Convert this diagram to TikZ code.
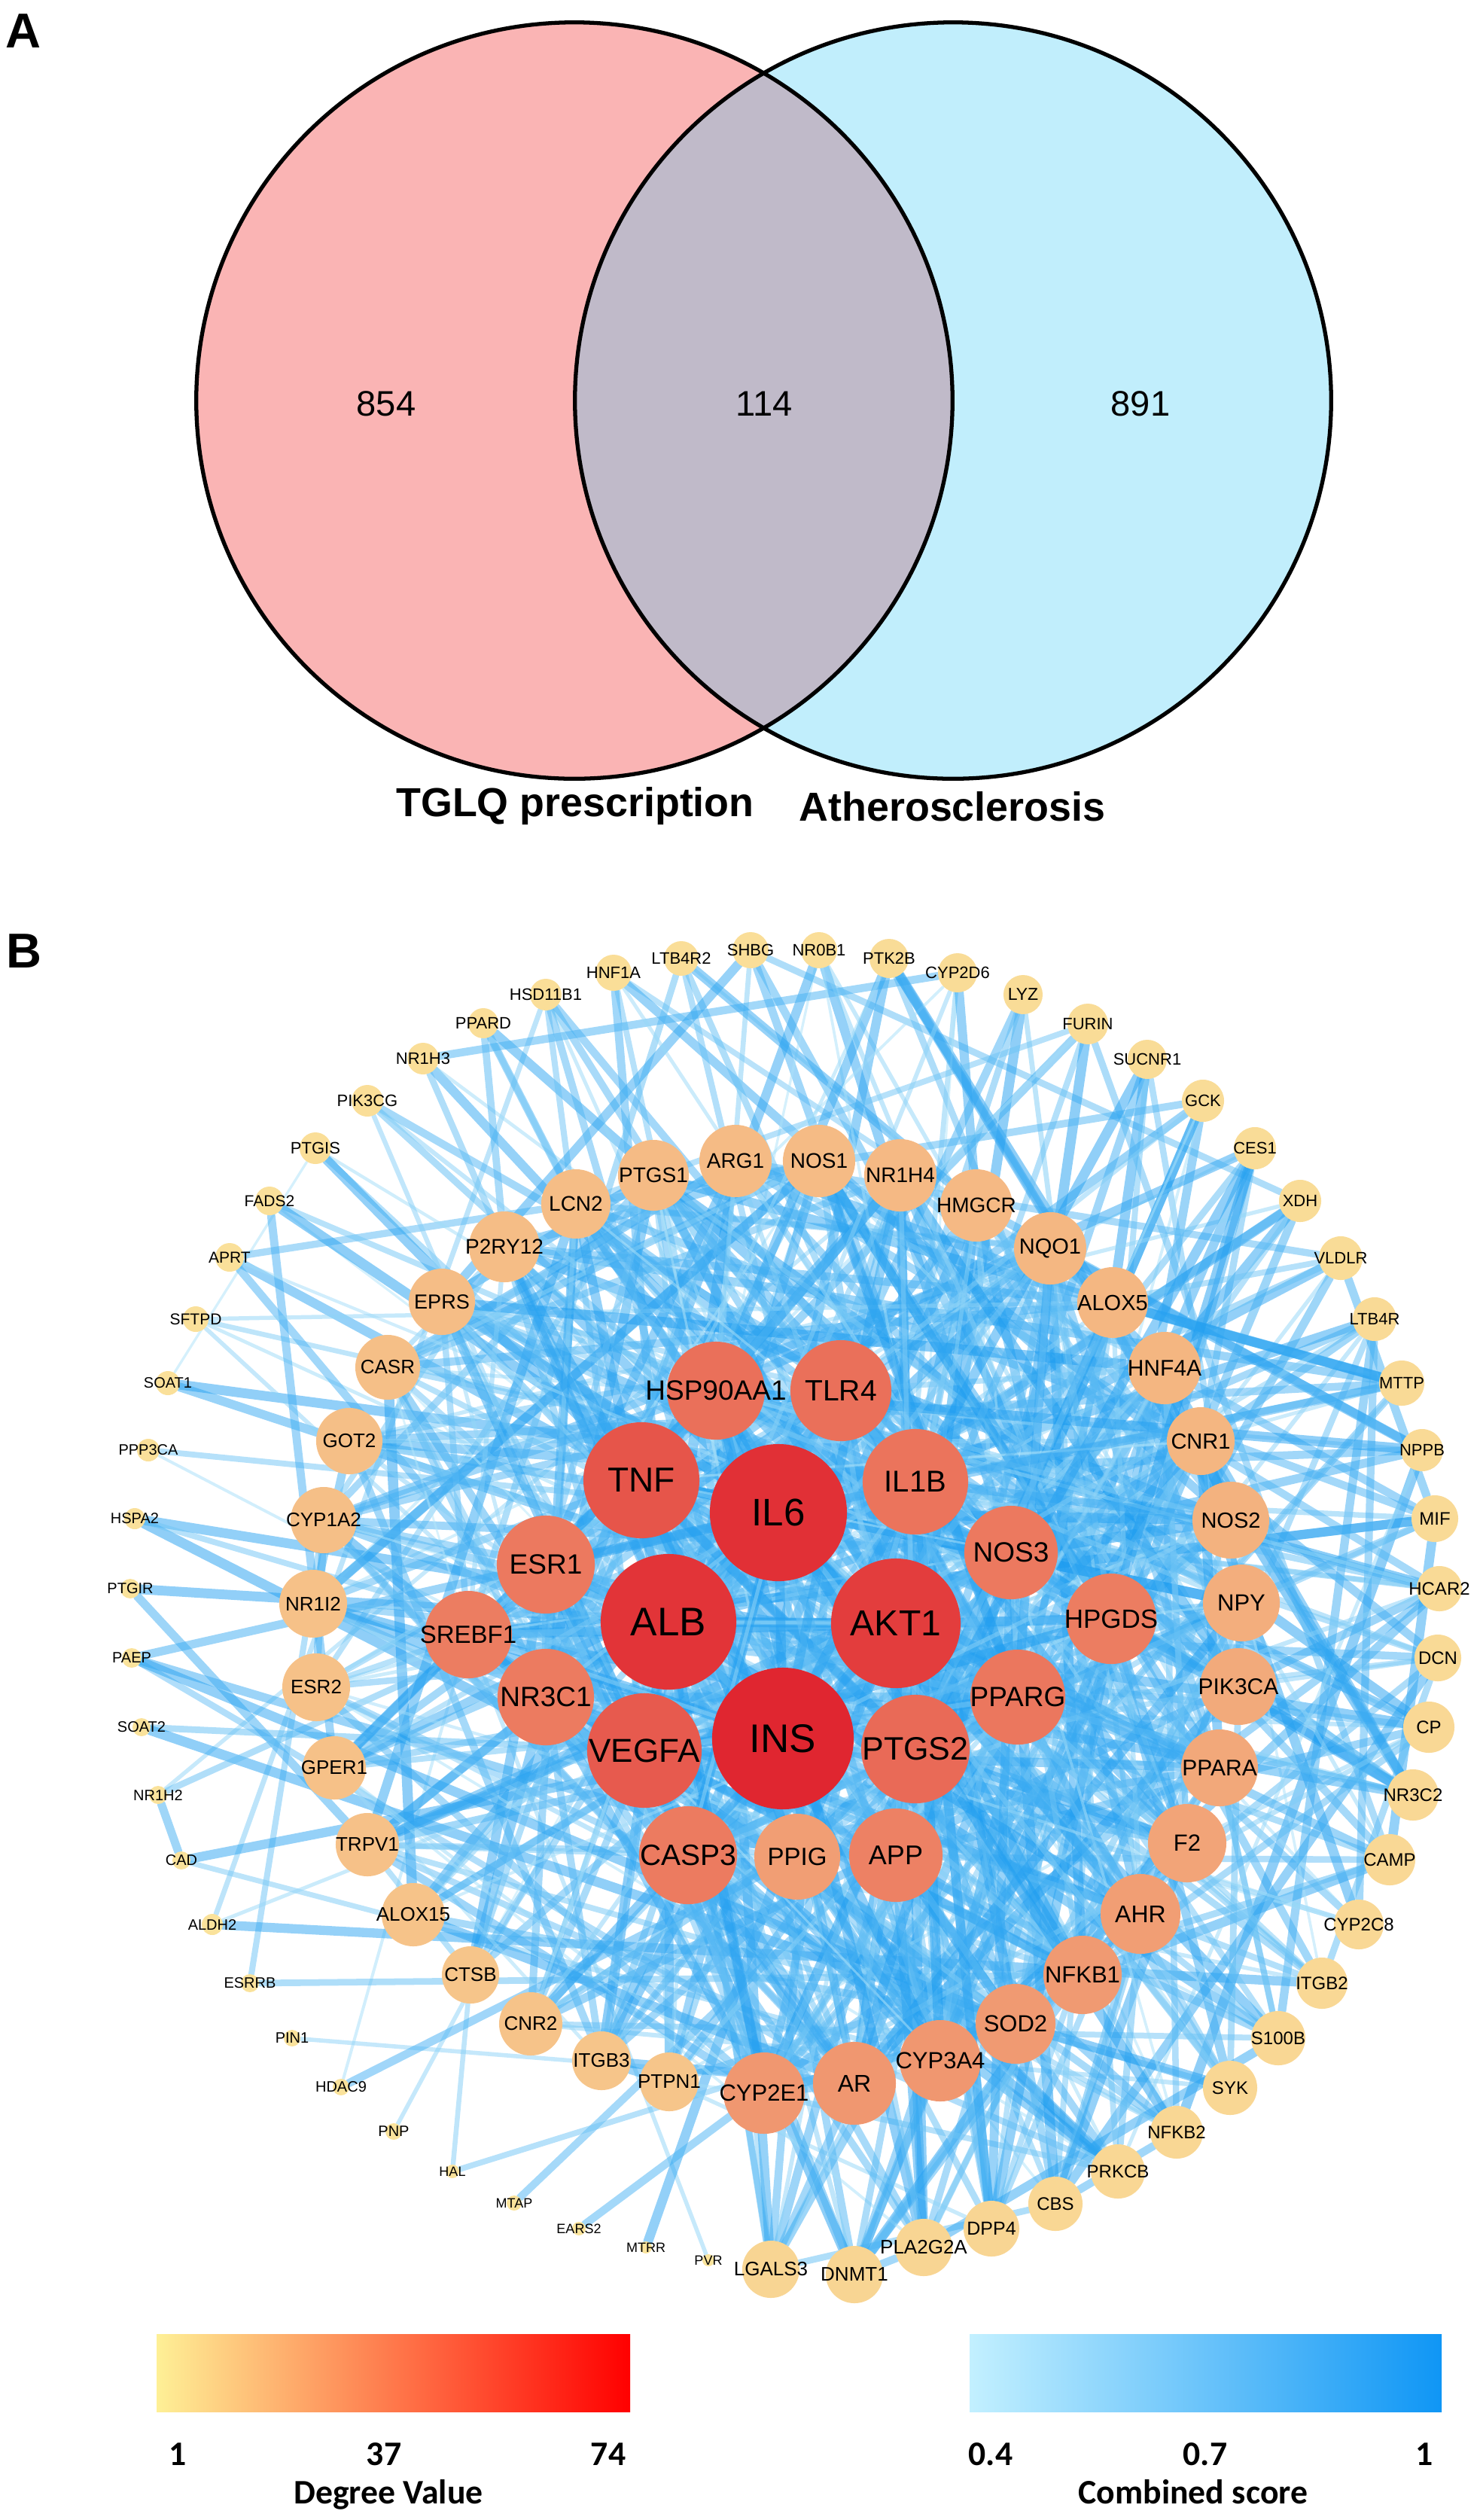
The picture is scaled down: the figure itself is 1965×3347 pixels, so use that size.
\documentclass[tikz,border=0pt]{standalone}
\usepackage{fontspec}
\setmainfont{Liberation Sans}
\newfontfamily\legendfont{Carlito}
\usepackage{tikz}
\usetikzlibrary{backgrounds}

\definecolor{vennpink}{RGB}{250,180,180}
\definecolor{venncyan}{RGB}{193,238,252}
\definecolor{vennlens}{RGB}{192,186,201}
\definecolor{cool}{RGB}{251,232,158}
\definecolor{hot}{RGB}{224,38,48}
\definecolor{weak}{RGB}{185,232,250}
\definecolor{strong}{RGB}{25,155,240}
\definecolor{dlow}{RGB}{254,240,150}
\definecolor{dmid}{RGB}{251,142,88}
\definecolor{dhigh}{RGB}{255,0,0}
\definecolor{slow}{RGB}{195,240,255}
\definecolor{shigh}{RGB}{15,150,245}

\tikzset{
  gene/.style={circle, inner sep=0pt, draw=none},
  link/.style={opacity=0.5, line cap=round},
  vennnum/.style={font=\fontsize{13.4}{13.4}\selectfont},
  setname/.style={font=\bfseries\fontsize{15.3}{15.3}\selectfont},
  panel/.style={font=\bfseries\fontsize{18.5}{18.5}\selectfont},
  legendtick/.style={font=\legendfont\bfseries\fontsize{13}{13}\selectfont, anchor=base},
}

\begin{document}
\begin{tikzpicture}[x=0.01cm, y=-0.01cm]
    \useasboundingbox (0,0) rectangle (1965,3347);

    % A: Venn
    \node[panel] (pA) at (31,41) {A};
    \fill[vennpink] (763,532) circle[radius=5.02cm];
    \fill[venncyan] (1266,532) circle[radius=5.02cm];
    \begin{scope}
        \clip (763,532) circle[radius=5.02cm];
        \fill[vennlens] (1266,532) circle[radius=5.02cm];
    \end{scope}
    \draw[line width=1.5pt] (763,532) circle[radius=5.02cm] (1266,532) circle[radius=5.02cm];
    \node[vennnum] (onlyL) at (513,536) {854};
    \node[vennnum] (both) at (1015,536) {114};
    \node[vennnum] (onlyR) at (1515,536) {891};
    \node[setname] (setL) at (764,1071) {TGLQ prescription};
    \node[setname] (setR) at (1265,1071) {Atherosclerosis};

    % B: PPI network
    \node[panel] (pB) at (32,1263) {B};
    \foreach \g/\x/\y/\r/\f/\p [count=\i] in {
        PVR/941/3002/8/18/2, MTRR/858/2985/8/18/2, EARS2/769/2960/9/18/2,
        MTAP/683/2926/10/18/3, HAL/601/2884/9/18/3, PNP/523/2831/11/20/3,
        HDAC9/453/2772/11/20/3, PIN1/388/2707/11/20/3, ESRRB/332/2634/12/20/3,
        ALDH2/282/2556/14/20/3, CAD/241/2471/12/20/3, NR1H2/210/2384/12/20/3,
        SOAT2/188/2294/12/20/3, PAEP/175/2202/13/20/3, PTGIR/173/2110/13/20/3,
        HSPA2/179/2017/14/20/4, PPP3CA/197/1926/15/20/4, SOAT1/223/1837/16/20/4,
        SFTPD/260/1752/17/21/4, APRT/305/1670/19/21/4, FADS2/358/1595/19/21/4,
        PTGIS/419/1525/21/22/5, PIK3CG/488/1462/21/22/5, NR1H3/562/1406/21/22/5,
        PPARD/642/1359/20/22/5, HSD11B1/725/1321/21/22/5, HNF1A/815/1292/24/22/5,
        LTB4R2/905/1273/23/22/5, SHBG/997/1262/24/22/5, NR0B1/1088/1262/24/22/5,
        PTK2B/1181/1273/26/22/6, CYP2D6/1272/1292/26/22/6, LYZ/1359/1321/26/23/6,
        FURIN/1445/1360/27/22/6, SUCNR1/1524/1407/26/22/6, GCK/1598/1462/28/22/6,
        CES1/1667/1525/28/22/6, XDH/1727/1595/28/22/6, VLDLR/1781/1671/29/22/6,
        LTB4R/1826/1752/29/22/7, MTTP/1862/1837/30/22/7, NPPB/1889/1926/28/22/7,
        MIF/1906/2017/31/24/7, HCAR2/1912/2110/30/24/7, DCN/1910/2202/31/24/7,
        CP/1898/2294/34/24/8, NR3C2/1877/2384/34/24/8, CAMP/1846/2470/34/24/8,
        CYP2C8/1805/2556/33/24/8, ITGB2/1756/2634/34/24/8, S100B/1698/2707/36/24/9,
        SYK/1634/2773/36/24/9, NFKB2/1563/2832/35/24/9, PRKCB/1485/2884/36/24/9,
        CBS/1402/2927/36/24/9, DPP4/1317/2960/37/25/10, PLA2G2A/1227/2985/38/26/10,
        DNMT1/1135/3021/38/26/10, LGALS3/1024/3014/38/26/10,
        PTPN1/889/2765/39/26/18, ITGB3/799/2737/39/26/18, CTSB/625/2623/38/26/18,
        CNR2/705/2688/42/26/19, ALOX15/549/2543/42/26/19, TRPV1/488/2450/42/26/20,
        GPER1/444/2348/42/26/20, ESR2/420/2241/45/26/20, NR1I2/416/2130/45/26/20,
        CYP1A2/430/2019/44/26/21, GOT2/464/1914/44/26/21, CASR/515/1816/43/26/21,
        EPRS/587/1729/44/27/22, P2RY12/670/1656/47/28/22, LCN2/765/1599/46/28/22,
        PTGS1/868/1561/47/28/23, ARG1/977/1542/48/28/23, NOS1/1088/1542/48/28/23,
        NR1H4/1196/1561/48/28/24, HMGCR/1297/1601/48/28/24, NQO1/1395/1658/48/29/25,
        ALOX5/1478/1730/47/29/25, HNF4A/1547/1817/48/30/26, CNR1/1595/1914/45/29/26,
        NOS2/1635/2019/51/29/28, NPY/1649/2129/51/31/30, PIK3CA/1645/2240/51/30/32,
        PPARA/1620/2348/51/30/33, F2/1577/2448/52/31/35, AHR/1515/2542/53/32/38,
        NFKB1/1438/2623/52/31/40, SOD2/1349/2688/53/31/40, CYP3A4/1249/2737/54/31/42,
        AR/1135/2767/55/32/42, CYP2E1/1015/2780/54/31/42,
        PPIG/1059/2466/57/33/38, APP/1190/2464/62/36/53, CASP3/914/2464/65/39/56,
        NR3C1/725/2254/64/37/56, SREBF1/622/2171/58/33/55, ESR1/725/2078/65/37/57,
        HPGDS/1476/2150/60/35/55, NOS3/1343/2062/62/37/57, PPARG/1352/2254/63/37/58,
        HSP90AA1/951/1847/65/37/62, TLR4/1117/1847/67/39/62, IL1B/1216/1968/70/40/60,
        PTGS2/1216/2323/72/43/65, VEGFA/856/2325/76/44/73, TNF/852/1966/77/46/76,
        AKT1/1190/2156/86/48/88, ALB/888/2154/90/53/93, IL6/1034/2009/91/51/95,
        INS/1040/2309/94/53/100}{
        \pgfmathsetmacro\fs{\f*0.2845}
        \expandafter\xdef\csname gn\i\endcsname{\g}
        \node[gene, minimum size=\r*0.02cm, fill=hot!\p!cool,
              label={[font=\fontsize{\fs pt}{\fs pt}\selectfont]center:\g}] (\g) at (\x,\y) {};
    }

    \begin{pgfonlayer}{background}
        \pgfmathsetseed{7}
        \foreach \i in {1,...,113}{
            \pgfmathtruncatemacro\m{1+\i/9}
            \foreach \k in {1,...,\m}{
                \pgfmathtruncatemacro\t{113-112*rnd*rnd}
                \pgfmathtruncatemacro\s{100*rnd^0.7}
                \pgfmathsetmacro\lw{0.7+0.032*\s}
                \ifnum\t=\i\else
                    \edef\ga{\csname gn\i\endcsname}
                    \edef\gb{\csname gn\t\endcsname}
                    \draw[link, draw=strong!\s!weak, line width=\lw pt] (\ga) -- (\gb);
                \fi
            }
        }
    \end{pgfonlayer}

    % legends
    \shade[left color=dlow, middle color=dmid, right color=dhigh] (208,3100) rectangle (837,3203);
    \shade[left color=slow, right color=shigh] (1288,3100) rectangle (1915,3203);
    \node[legendtick] (d1) at (236,3274) {1};
    \node[legendtick] (d37) at (510,3274) {37};
    \node[legendtick] (d74) at (808,3274) {74};
    \node[legendtick] (s04) at (1316,3274) {0.4};
    \node[legendtick] (s07) at (1601,3274) {0.7};
    \node[legendtick] (s1) at (1892,3274) {1};
    \node[legendtick] (dname) at (516,3325) {Degree Value};
    \node[legendtick] (sname) at (1585,3325) {Combined score};
\end{tikzpicture}
\end{document}
